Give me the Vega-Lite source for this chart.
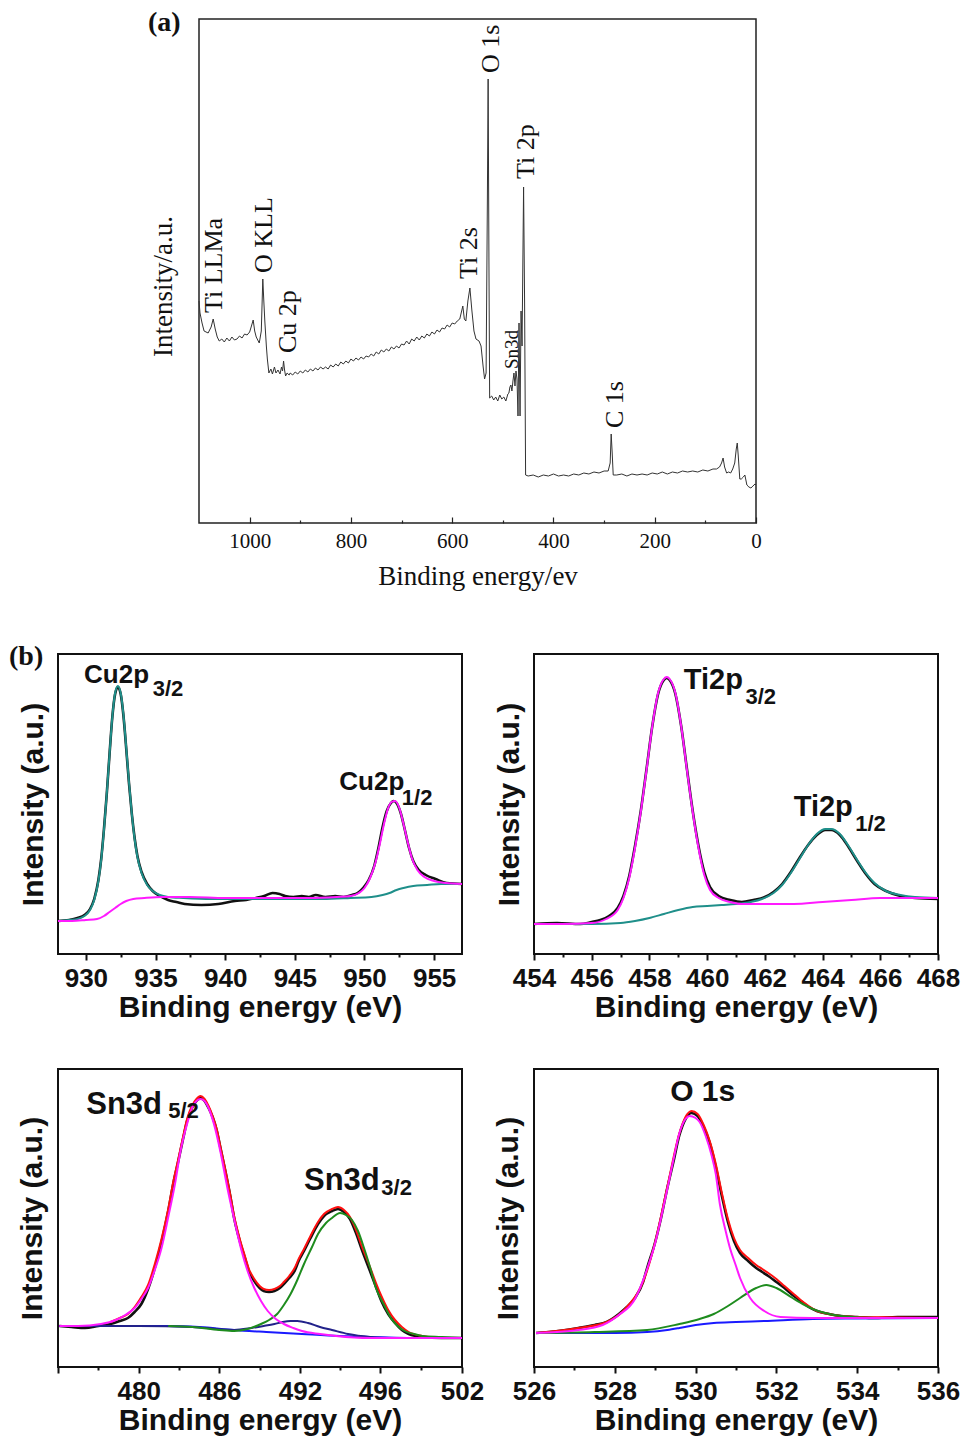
{
  "$schema": "https://vega.github.io/schema/vega-lite/v6.json",
  "background": "white",
  "autosize": {"type": "pad"},
  "padding": {"left": 8, "top": 8, "right": 10, "bottom": 10},
  "config": {"view": {"stroke": null}, "axis": {"grid": false}},
  "datasets": {
    "survey": [
      {"e":1100,"i":222},{"e":1098,"i":210},{"e":1094,"i":200},{"e":1090,"i":192},{"e":1082,"i":190},{"e":1076,"i":196},{"e":1072,"i":204},{"e":1068,"i":194},{"e":1064,"i":186},{"e":1060,"i":182},
      {"e":1055,"i":184},{"e":1050,"i":181},{"e":1045,"i":185},{"e":1040,"i":182},{"e":1035,"i":186},{"e":1030,"i":183},{"e":1025,"i":184},{"e":1020,"i":187},{"e":1015,"i":185},{"e":1010,"i":189},
      {"e":1005,"i":188},{"e":1000,"i":191},{"e":997,"i":196},{"e":993,"i":203},{"e":990,"i":192},{"e":987,"i":186},{"e":981,"i":180},{"e":977,"i":192},{"e":974,"i":244},{"e":972,"i":222},
      {"e":970,"i":202},{"e":967,"i":177},{"e":965,"i":164},{"e":962,"i":150},{"e":958,"i":154},{"e":955,"i":149},{"e":951,"i":156},{"e":948,"i":150},{"e":944,"i":153},{"e":940,"i":149},
      {"e":937,"i":156},{"e":935,"i":152},{"e":933,"i":162},{"e":931,"i":153},{"e":929,"i":147},{"e":926,"i":150},{"e":922,"i":148},{"e":920,"i":150},{"e":915,"i":148},{"e":910,"i":151},
      {"e":905,"i":149},{"e":900,"i":152},{"e":895,"i":150},{"e":890,"i":153},{"e":885,"i":151},{"e":880,"i":154},{"e":875,"i":152},{"e":870,"i":155},{"e":865,"i":153},{"e":860,"i":156},
      {"e":855,"i":154},{"e":850,"i":156},{"e":845,"i":154},{"e":840,"i":158},{"e":835,"i":156},{"e":830,"i":159},{"e":825,"i":157},{"e":820,"i":161},{"e":815,"i":159},{"e":810,"i":162},
      {"e":805,"i":160},{"e":800,"i":164},{"e":795,"i":162},{"e":790,"i":165},{"e":785,"i":163},{"e":780,"i":166},{"e":775,"i":164},{"e":770,"i":167},{"e":765,"i":166},{"e":760,"i":169},
      {"e":755,"i":167},{"e":750,"i":171},{"e":745,"i":169},{"e":740,"i":173},{"e":735,"i":171},{"e":730,"i":174},{"e":725,"i":172},{"e":720,"i":176},{"e":715,"i":174},{"e":710,"i":177},
      {"e":705,"i":175},{"e":700,"i":179},{"e":695,"i":178},{"e":690,"i":182},{"e":685,"i":179},{"e":680,"i":184},{"e":675,"i":182},{"e":670,"i":186},{"e":665,"i":183},{"e":660,"i":187},
      {"e":655,"i":185},{"e":650,"i":189},{"e":645,"i":187},{"e":640,"i":191},{"e":635,"i":189},{"e":630,"i":193},{"e":625,"i":191},{"e":620,"i":195},{"e":615,"i":194},{"e":610,"i":198},
      {"e":605,"i":196},{"e":600,"i":200},{"e":595,"i":199},{"e":590,"i":202},{"e":585,"i":204},{"e":579,"i":217},{"e":576,"i":204},{"e":573,"i":202},{"e":569,"i":222},{"e":565,"i":235},
      {"e":561,"i":212},{"e":557,"i":192},{"e":553,"i":184},{"e":547,"i":182},{"e":543,"i":177},{"e":539,"i":157},{"e":536,"i":144},{"e":533,"i":150},{"e":530.5,"i":322},{"e":529,"i":444},
      {"e":527.5,"i":272},{"e":526,"i":125},{"e":522,"i":127},{"e":518,"i":123},{"e":514,"i":126},{"e":510,"i":122},{"e":506,"i":128},{"e":502,"i":124},{"e":498,"i":126},{"e":494,"i":122},
      {"e":490,"i":129},{"e":488,"i":130},{"e":486,"i":136},{"e":484,"i":138},{"e":482,"i":132},{"e":480,"i":142},{"e":478,"i":150},{"e":476,"i":137},{"e":474,"i":152},{"e":472,"i":144},
      {"e":470,"i":107},{"e":468,"i":200},{"e":466,"i":107},{"e":464,"i":212},{"e":462,"i":177},{"e":459,"i":336},{"e":457,"i":222},{"e":455,"i":48},{"e":450,"i":47},{"e":440,"i":48},
      {"e":430,"i":46},{"e":420,"i":48},{"e":410,"i":47},{"e":400,"i":49},{"e":390,"i":47},{"e":380,"i":48},{"e":370,"i":47},{"e":360,"i":49},{"e":350,"i":48},{"e":340,"i":50},
      {"e":330,"i":49},{"e":320,"i":51},{"e":310,"i":50},{"e":300,"i":52},{"e":292,"i":52},{"e":288,"i":60},{"e":286,"i":89},{"e":284,"i":70},{"e":282,"i":48},{"e":275,"i":48},
      {"e":265,"i":49},{"e":255,"i":47},{"e":245,"i":49},{"e":235,"i":48},{"e":225,"i":49},{"e":215,"i":48},{"e":205,"i":50},{"e":195,"i":49},{"e":185,"i":51},{"e":175,"i":49},
      {"e":165,"i":51},{"e":155,"i":50},{"e":145,"i":52},{"e":135,"i":51},{"e":125,"i":52},{"e":115,"i":51},{"e":105,"i":53},{"e":95,"i":52},{"e":85,"i":54},{"e":78,"i":54},
      {"e":72,"i":56},{"e":68,"i":60},{"e":65,"i":65},{"e":62,"i":56},{"e":58,"i":50},{"e":54,"i":51},{"e":50,"i":50},{"e":46,"i":54},{"e":42,"i":60},{"e":39,"i":74},
      {"e":37,"i":80},{"e":35,"i":67},{"e":32,"i":44},{"e":29,"i":44},{"e":25,"i":46},{"e":22,"i":48},{"e":18,"i":38},{"e":14,"i":36},{"e":10,"i":35},{"e":6,"i":37},
      {"e":2,"i":39},{"e":0,"i":38}
    ],
    "labA": [
      {"t":"Ti LLMa","e":1070,"i":210},{"t":"O KLL","e":972,"i":250},{"t":"Cu 2p","e":924,"i":170},{"t":"Ti 2s","e":567,"i":244},
      {"t":"O 1s","e":523,"i":450},{"t":"Ti 2p","e":454,"i":344},{"t":"C 1s","e":278,"i":95},{"t":"Sn3d","e":481,"i":154}
    ],
    "cu": [
      {"s":"raw","e":928.0,"i":33},{"s":"raw","e":928.8,"i":34},{"s":"raw","e":929.4,"i":36},{"s":"raw","e":929.9,"i":39},{"s":"raw","e":930.3,"i":45},{"s":"raw","e":930.6,"i":55},
      {"s":"raw","e":930.9,"i":74},{"s":"raw","e":931.1,"i":95},{"s":"raw","e":931.3,"i":125},{"s":"raw","e":931.5,"i":160},{"s":"raw","e":931.7,"i":200},{"s":"raw","e":931.9,"i":237},
      {"s":"raw","e":932.1,"i":260},{"s":"raw","e":932.3,"i":267},{"s":"raw","e":932.5,"i":260},{"s":"raw","e":932.7,"i":238},{"s":"raw","e":932.9,"i":205},{"s":"raw","e":933.1,"i":170},
      {"s":"raw","e":933.3,"i":140},{"s":"raw","e":933.5,"i":116},{"s":"raw","e":933.7,"i":98},{"s":"raw","e":934.0,"i":82},{"s":"raw","e":934.4,"i":70},{"s":"raw","e":934.8,"i":63},
      {"s":"raw","e":935.3,"i":58},{"s":"raw","e":935.9,"i":54},{"s":"raw","e":936.5,"i":52},{"s":"raw","e":937.1,"i":50},{"s":"raw","e":938.3,"i":49},{"s":"raw","e":939.5,"i":50},
      {"s":"raw","e":940.7,"i":53},{"s":"raw","e":941.5,"i":54},{"s":"raw","e":942.2,"i":56},{"s":"raw","e":942.8,"i":58},{"s":"raw","e":943.4,"i":61},{"s":"raw","e":943.9,"i":60},
      {"s":"raw","e":944.3,"i":58},{"s":"raw","e":944.9,"i":57},{"s":"raw","e":945.5,"i":58},{"s":"raw","e":946.0,"i":57},{"s":"raw","e":946.5,"i":59},{"s":"raw","e":947.2,"i":57},
      {"s":"raw","e":947.9,"i":58},{"s":"raw","e":948.5,"i":57},{"s":"raw","e":949.1,"i":59},{"s":"raw","e":949.5,"i":61},{"s":"raw","e":949.9,"i":66},{"s":"raw","e":950.3,"i":74},
      {"s":"raw","e":950.7,"i":88},{"s":"raw","e":951.0,"i":106},{"s":"raw","e":951.3,"i":127},{"s":"raw","e":951.6,"i":143},{"s":"raw","e":951.9,"i":151},{"s":"raw","e":952.1,"i":153},
      {"s":"raw","e":952.3,"i":151},{"s":"raw","e":952.6,"i":141},{"s":"raw","e":952.9,"i":124},{"s":"raw","e":953.2,"i":106},{"s":"raw","e":953.5,"i":93},{"s":"raw","e":953.9,"i":84},
      {"s":"raw","e":954.4,"i":79},{"s":"raw","e":955.1,"i":75},{"s":"raw","e":955.9,"i":71},{"s":"raw","e":957.0,"i":70},
      {"s":"p32","e":928.0,"i":33},{"s":"p32","e":928.8,"i":34},{"s":"p32","e":929.4,"i":35},{"s":"p32","e":929.9,"i":38},{"s":"p32","e":930.3,"i":44},{"s":"p32","e":930.6,"i":54},
      {"s":"p32","e":930.9,"i":73},{"s":"p32","e":931.1,"i":94},{"s":"p32","e":931.3,"i":124},{"s":"p32","e":931.5,"i":160},{"s":"p32","e":931.7,"i":200},{"s":"p32","e":931.9,"i":237},
      {"s":"p32","e":932.1,"i":261},{"s":"p32","e":932.3,"i":268},{"s":"p32","e":932.5,"i":261},{"s":"p32","e":932.7,"i":239},{"s":"p32","e":932.9,"i":206},{"s":"p32","e":933.1,"i":171},
      {"s":"p32","e":933.3,"i":140},{"s":"p32","e":933.5,"i":115},{"s":"p32","e":933.7,"i":97},{"s":"p32","e":934.0,"i":81},{"s":"p32","e":934.4,"i":69},{"s":"p32","e":934.8,"i":63},
      {"s":"p32","e":935.3,"i":59},{"s":"p32","e":935.9,"i":57},{"s":"p32","e":937.0,"i":56},{"s":"p32","e":939.0,"i":55},{"s":"p32","e":941.0,"i":55},{"s":"p32","e":943.0,"i":55},
      {"s":"p32","e":945.0,"i":55},{"s":"p32","e":947.0,"i":55},{"s":"p32","e":949.0,"i":56},{"s":"p32","e":950.5,"i":57},{"s":"p32","e":951.3,"i":59},{"s":"p32","e":951.8,"i":61},
      {"s":"p32","e":952.3,"i":64},{"s":"p32","e":952.8,"i":66},{"s":"p32","e":953.5,"i":68},{"s":"p32","e":954.5,"i":69},{"s":"p32","e":955.5,"i":70},{"s":"p32","e":957.0,"i":70},
      {"s":"p12","e":928.0,"i":33},{"s":"p12","e":929.0,"i":33},{"s":"p12","e":930.0,"i":34},{"s":"p12","e":930.8,"i":35},{"s":"p12","e":931.3,"i":38},{"s":"p12","e":931.7,"i":42},
      {"s":"p12","e":932.1,"i":46},{"s":"p12","e":932.5,"i":50},{"s":"p12","e":932.9,"i":53},{"s":"p12","e":933.4,"i":55},{"s":"p12","e":934.2,"i":56},{"s":"p12","e":935.5,"i":57},
      {"s":"p12","e":937.5,"i":57},{"s":"p12","e":940.0,"i":56},{"s":"p12","e":943.0,"i":56},{"s":"p12","e":946.0,"i":56},{"s":"p12","e":948.0,"i":57},{"s":"p12","e":949.0,"i":58},
      {"s":"p12","e":949.6,"i":61},{"s":"p12","e":950.0,"i":66},{"s":"p12","e":950.4,"i":76},{"s":"p12","e":950.8,"i":92},{"s":"p12","e":951.1,"i":110},{"s":"p12","e":951.4,"i":130},
      {"s":"p12","e":951.7,"i":146},{"s":"p12","e":951.95,"i":152},{"s":"p12","e":952.2,"i":153},{"s":"p12","e":952.5,"i":146},{"s":"p12","e":952.8,"i":130},{"s":"p12","e":953.1,"i":112},
      {"s":"p12","e":953.4,"i":96},{"s":"p12","e":953.8,"i":84},{"s":"p12","e":954.3,"i":77},{"s":"p12","e":955.0,"i":73},{"s":"p12","e":955.8,"i":71},{"s":"p12","e":957.0,"i":70}
    ],
    "labCu": [
      {"k":"main","t":"Cu2p","e":929.87,"i":271},{"k":"sub","t":"3/2","e":934.8,"i":258},
      {"k":"main","t":"Cu2p","e":948.19,"i":164},{"k":"sub","t":"1/2","e":952.68,"i":149}
    ],
    "ti": [
      {"s":"raw","e":454.0,"i":30},{"s":"raw","e":454.8,"i":31},{"s":"raw","e":455.6,"i":30},{"s":"raw","e":456.0,"i":32},{"s":"raw","e":456.3,"i":34},{"s":"raw","e":456.6,"i":38},
      {"s":"raw","e":456.9,"i":46},{"s":"raw","e":457.1,"i":58},{"s":"raw","e":457.3,"i":78},{"s":"raw","e":457.5,"i":108},{"s":"raw","e":457.7,"i":143},{"s":"raw","e":457.9,"i":185},
      {"s":"raw","e":458.1,"i":228},{"s":"raw","e":458.3,"i":260},{"s":"raw","e":458.5,"i":274},{"s":"raw","e":458.6,"i":276},{"s":"raw","e":458.7,"i":274},{"s":"raw","e":458.9,"i":260},
      {"s":"raw","e":459.1,"i":228},{"s":"raw","e":459.3,"i":185},{"s":"raw","e":459.5,"i":143},{"s":"raw","e":459.7,"i":108},{"s":"raw","e":459.9,"i":82},{"s":"raw","e":460.1,"i":67},
      {"s":"raw","e":460.4,"i":58},{"s":"raw","e":460.8,"i":54},{"s":"raw","e":461.2,"i":52},{"s":"raw","e":461.6,"i":54},{"s":"raw","e":462.0,"i":57},{"s":"raw","e":462.3,"i":62},
      {"s":"raw","e":462.6,"i":70},{"s":"raw","e":462.9,"i":82},{"s":"raw","e":463.2,"i":96},{"s":"raw","e":463.5,"i":109},{"s":"raw","e":463.8,"i":119},{"s":"raw","e":464.1,"i":124},
      {"s":"raw","e":464.3,"i":124},{"s":"raw","e":464.6,"i":119},{"s":"raw","e":464.9,"i":107},{"s":"raw","e":465.2,"i":93},{"s":"raw","e":465.5,"i":80},{"s":"raw","e":465.8,"i":70},
      {"s":"raw","e":466.2,"i":63},{"s":"raw","e":466.7,"i":58},{"s":"raw","e":467.2,"i":56},{"s":"raw","e":468.0,"i":55},
      {"s":"p32","e":454.0,"i":30},{"s":"p32","e":455.0,"i":30},{"s":"p32","e":456.0,"i":31},{"s":"p32","e":456.5,"i":35},{"s":"p32","e":456.9,"i":44},{"s":"p32","e":457.1,"i":56},
      {"s":"p32","e":457.3,"i":76},{"s":"p32","e":457.5,"i":106},{"s":"p32","e":457.7,"i":142},{"s":"p32","e":457.9,"i":184},{"s":"p32","e":458.1,"i":228},{"s":"p32","e":458.3,"i":261},
      {"s":"p32","e":458.5,"i":275},{"s":"p32","e":458.6,"i":277},{"s":"p32","e":458.7,"i":275},{"s":"p32","e":458.9,"i":261},{"s":"p32","e":459.1,"i":228},{"s":"p32","e":459.3,"i":184},
      {"s":"p32","e":459.5,"i":142},{"s":"p32","e":459.7,"i":106},{"s":"p32","e":459.9,"i":79},{"s":"p32","e":460.1,"i":64},{"s":"p32","e":460.4,"i":56},{"s":"p32","e":460.8,"i":52},
      {"s":"p32","e":461.2,"i":50},{"s":"p32","e":462.0,"i":50},{"s":"p32","e":463.0,"i":50},{"s":"p32","e":464.0,"i":52},{"s":"p32","e":465.0,"i":54},{"s":"p32","e":466.0,"i":56},
      {"s":"p32","e":467.0,"i":56},{"s":"p32","e":468.0,"i":56},
      {"s":"p12","e":454.0,"i":30},{"s":"p12","e":455.0,"i":30},{"s":"p12","e":456.0,"i":30},{"s":"p12","e":457.0,"i":31},{"s":"p12","e":457.5,"i":33},{"s":"p12","e":458.0,"i":36},
      {"s":"p12","e":458.5,"i":40},{"s":"p12","e":459.0,"i":44},{"s":"p12","e":459.5,"i":47},{"s":"p12","e":460.0,"i":48},{"s":"p12","e":460.5,"i":49},{"s":"p12","e":461.0,"i":50},
      {"s":"p12","e":461.5,"i":52},{"s":"p12","e":461.9,"i":55},{"s":"p12","e":462.3,"i":61},{"s":"p12","e":462.6,"i":69},{"s":"p12","e":462.9,"i":81},{"s":"p12","e":463.2,"i":95},
      {"s":"p12","e":463.5,"i":109},{"s":"p12","e":463.8,"i":120},{"s":"p12","e":464.1,"i":125},{"s":"p12","e":464.3,"i":125},{"s":"p12","e":464.6,"i":120},{"s":"p12","e":464.9,"i":108},
      {"s":"p12","e":465.2,"i":94},{"s":"p12","e":465.5,"i":81},{"s":"p12","e":465.8,"i":71},{"s":"p12","e":466.2,"i":63},{"s":"p12","e":466.7,"i":59},{"s":"p12","e":467.2,"i":57},
      {"s":"p12","e":468.0,"i":56}
    ],
    "labTi": [
      {"k":"main","t":"Ti2p","e":459.19,"i":265},{"k":"sub","t":"3/2","e":461.33,"i":250},
      {"k":"main","t":"Ti2p","e":463.0,"i":138},{"k":"sub","t":"1/2","e":465.13,"i":123}
    ],
    "sn": [
      {"s":"raw","e":474.1,"i":41},{"s":"raw","e":475.0,"i":40},{"s":"raw","e":476.0,"i":39},{"s":"raw","e":477.0,"i":41},{"s":"raw","e":477.9,"i":43},{"s":"raw","e":478.6,"i":46},
      {"s":"raw","e":479.2,"i":49},{"s":"raw","e":479.7,"i":55},{"s":"raw","e":480.2,"i":63},{"s":"raw","e":480.7,"i":78},{"s":"raw","e":481.2,"i":99},{"s":"raw","e":481.7,"i":125},
      {"s":"raw","e":482.2,"i":156},{"s":"raw","e":482.6,"i":185},{"s":"raw","e":482.9,"i":203},{"s":"raw","e":483.3,"i":228},{"s":"raw","e":483.6,"i":246},{"s":"raw","e":484.0,"i":260},
      {"s":"raw","e":484.3,"i":266},{"s":"raw","e":484.6,"i":269},{"s":"raw","e":484.9,"i":266},{"s":"raw","e":485.2,"i":259},{"s":"raw","e":485.5,"i":250},{"s":"raw","e":485.8,"i":237},
      {"s":"raw","e":486.1,"i":218},{"s":"raw","e":486.4,"i":199},{"s":"raw","e":486.8,"i":172},{"s":"raw","e":487.1,"i":149},{"s":"raw","e":487.5,"i":127},{"s":"raw","e":487.9,"i":109},
      {"s":"raw","e":488.2,"i":96},{"s":"raw","e":488.6,"i":86},{"s":"raw","e":489.0,"i":79},{"s":"raw","e":489.3,"i":76},{"s":"raw","e":489.7,"i":75},{"s":"raw","e":490.1,"i":76},
      {"s":"raw","e":490.5,"i":79},{"s":"raw","e":490.8,"i":83},{"s":"raw","e":491.2,"i":89},{"s":"raw","e":491.6,"i":96},{"s":"raw","e":491.9,"i":106},{"s":"raw","e":492.2,"i":116},
      {"s":"raw","e":492.5,"i":128},{"s":"raw","e":492.9,"i":143},{"s":"raw","e":493.2,"i":151},{"s":"raw","e":493.6,"i":156},{"s":"raw","e":493.9,"i":158},{"s":"raw","e":494.2,"i":155},
      {"s":"raw","e":494.5,"i":148},{"s":"raw","e":494.8,"i":134},{"s":"raw","e":495.1,"i":117},{"s":"raw","e":495.5,"i":96},{"s":"raw","e":495.8,"i":80},{"s":"raw","e":496.1,"i":66},
      {"s":"raw","e":496.6,"i":53},{"s":"raw","e":497.1,"i":44},{"s":"raw","e":497.6,"i":37},{"s":"raw","e":498.1,"i":33},{"s":"raw","e":499.1,"i":30},{"s":"raw","e":500.5,"i":29},
      {"s":"raw","e":502.0,"i":29},
      {"s":"sum","e":477.9,"i":45},{"s":"sum","e":478.6,"i":49},{"s":"sum","e":479.2,"i":53},{"s":"sum","e":479.7,"i":60},{"s":"sum","e":480.2,"i":70},{"s":"sum","e":480.7,"i":82},
      {"s":"sum","e":481.2,"i":103},{"s":"sum","e":481.7,"i":128},{"s":"sum","e":482.2,"i":158},{"s":"sum","e":482.6,"i":187},{"s":"sum","e":482.9,"i":205},{"s":"sum","e":483.3,"i":230},
      {"s":"sum","e":483.6,"i":248},{"s":"sum","e":484.0,"i":262},{"s":"sum","e":484.3,"i":268},{"s":"sum","e":484.6,"i":271},{"s":"sum","e":484.9,"i":268},{"s":"sum","e":485.2,"i":261},
      {"s":"sum","e":485.5,"i":251},{"s":"sum","e":485.8,"i":238},{"s":"sum","e":486.1,"i":219},{"s":"sum","e":486.4,"i":200},{"s":"sum","e":486.8,"i":173},{"s":"sum","e":487.1,"i":151},
      {"s":"sum","e":487.5,"i":129},{"s":"sum","e":487.9,"i":111},{"s":"sum","e":488.2,"i":98},{"s":"sum","e":488.6,"i":88},{"s":"sum","e":489.0,"i":81},{"s":"sum","e":489.3,"i":78},
      {"s":"sum","e":489.7,"i":77},{"s":"sum","e":490.1,"i":78},{"s":"sum","e":490.5,"i":81},{"s":"sum","e":490.8,"i":85},{"s":"sum","e":491.2,"i":91},{"s":"sum","e":491.6,"i":99},
      {"s":"sum","e":491.9,"i":108},{"s":"sum","e":492.2,"i":118},{"s":"sum","e":492.5,"i":130},{"s":"sum","e":492.9,"i":145},{"s":"sum","e":493.2,"i":153},{"s":"sum","e":493.6,"i":158},
      {"s":"sum","e":493.9,"i":160},{"s":"sum","e":494.2,"i":157},{"s":"sum","e":494.5,"i":150},{"s":"sum","e":494.8,"i":137},{"s":"sum","e":495.1,"i":120},{"s":"sum","e":495.5,"i":100},
      {"s":"sum","e":495.8,"i":84},{"s":"sum","e":496.1,"i":71},{"s":"sum","e":496.6,"i":57},{"s":"sum","e":497.1,"i":47},{"s":"sum","e":497.6,"i":40},{"s":"sum","e":498.1,"i":35},
      {"s":"sum","e":499.1,"i":31},{"s":"sum","e":500.5,"i":29},{"s":"sum","e":502.0,"i":29},
      {"s":"p52","e":474.1,"i":41},{"s":"p52","e":475.5,"i":41},{"s":"p52","e":477.2,"i":43},{"s":"p52","e":478.3,"i":47},{"s":"p52","e":479.0,"i":52},{"s":"p52","e":479.7,"i":59},
      {"s":"p52","e":480.2,"i":68},{"s":"p52","e":480.7,"i":79},{"s":"p52","e":481.2,"i":97},{"s":"p52","e":481.7,"i":119},{"s":"p52","e":482.2,"i":150},{"s":"p52","e":482.7,"i":183},
      {"s":"p52","e":483.1,"i":215},{"s":"p52","e":483.6,"i":243},{"s":"p52","e":484.0,"i":260},{"s":"p52","e":484.3,"i":266},{"s":"p52","e":484.6,"i":268},{"s":"p52","e":484.9,"i":266},
      {"s":"p52","e":485.2,"i":259},{"s":"p52","e":485.6,"i":243},{"s":"p52","e":486.1,"i":214},{"s":"p52","e":486.6,"i":179},{"s":"p52","e":487.1,"i":148},{"s":"p52","e":487.6,"i":119},
      {"s":"p52","e":488.1,"i":96},{"s":"p52","e":488.6,"i":79},{"s":"p52","e":489.1,"i":66},{"s":"p52","e":489.6,"i":56},{"s":"p52","e":490.2,"i":48},{"s":"p52","e":490.8,"i":43},
      {"s":"p52","e":491.5,"i":39},{"s":"p52","e":492.1,"i":36},{"s":"p52","e":493.0,"i":33},{"s":"p52","e":493.8,"i":31},{"s":"p52","e":495.5,"i":29},{"s":"p52","e":498.0,"i":29},
      {"s":"p52","e":502.0,"i":29},
      {"s":"p32","e":482.2,"i":41},{"s":"p32","e":484.0,"i":40},{"s":"p32","e":486.0,"i":37},{"s":"p32","e":487.1,"i":36},{"s":"p32","e":488.1,"i":38},{"s":"p32","e":489.1,"i":43},
      {"s":"p32","e":489.7,"i":47},{"s":"p32","e":490.3,"i":53},{"s":"p32","e":490.8,"i":62},{"s":"p32","e":491.3,"i":73},{"s":"p32","e":491.8,"i":87},{"s":"p32","e":492.2,"i":103},
      {"s":"p32","e":492.6,"i":120},{"s":"p32","e":492.9,"i":133},{"s":"p32","e":493.3,"i":144},{"s":"p32","e":493.6,"i":149},{"s":"p32","e":494.0,"i":154},{"s":"p32","e":494.3,"i":152},
      {"s":"p32","e":494.6,"i":147},{"s":"p32","e":494.9,"i":136},{"s":"p32","e":495.2,"i":119},{"s":"p32","e":495.5,"i":100},{"s":"p32","e":495.8,"i":79},{"s":"p32","e":496.3,"i":62},
      {"s":"p32","e":496.8,"i":49},{"s":"p32","e":497.3,"i":41},{"s":"p32","e":497.8,"i":36},{"s":"p32","e":498.5,"i":33},{"s":"p32","e":499.1,"i":31},{"s":"p32","e":500.5,"i":30},
      {"s":"p32","e":502.0,"i":29},
      {"s":"bg","e":474.1,"i":41},{"s":"bg","e":478.0,"i":41},{"s":"bg","e":482.2,"i":41},{"s":"bg","e":484.5,"i":40},{"s":"bg","e":487.1,"i":37},{"s":"bg","e":489.5,"i":35},
      {"s":"bg","e":492.1,"i":33},{"s":"bg","e":494.0,"i":31},{"s":"bg","e":495.5,"i":30},{"s":"bg","e":498.0,"i":29},{"s":"bg","e":502.0,"i":29},
      {"s":"sat","e":474.1,"i":41},{"s":"sat","e":480.0,"i":41},{"s":"sat","e":484.0,"i":40},{"s":"sat","e":485.8,"i":38},{"s":"sat","e":487.1,"i":37},{"s":"sat","e":488.4,"i":39},
      {"s":"sat","e":489.3,"i":41},{"s":"sat","e":490.1,"i":43},{"s":"sat","e":490.7,"i":45},{"s":"sat","e":491.3,"i":46},{"s":"sat","e":491.8,"i":46},{"s":"sat","e":492.4,"i":44},
      {"s":"sat","e":493.0,"i":40},{"s":"sat","e":493.6,"i":37},{"s":"sat","e":494.4,"i":33},{"s":"sat","e":495.5,"i":30},{"s":"sat","e":496.7,"i":29},{"s":"sat","e":502.0,"i":29}
    ],
    "labSn": [
      {"k":"main","t":"Sn3d","e":476.1,"i":253},{"k":"sub","t":"5/2","e":482.2,"i":249},
      {"k":"main","t":"Sn3d","e":492.2,"i":177},{"k":"sub","t":"3/2","e":496.1,"i":172}
    ],
    "o": [
      {"s":"raw","e":526.05,"i":34},{"s":"raw","e":526.6,"i":36},{"s":"raw","e":527.1,"i":39},{"s":"raw","e":527.5,"i":42},{"s":"raw","e":527.8,"i":45},{"s":"raw","e":528.1,"i":53},
      {"s":"raw","e":528.3,"i":60},{"s":"raw","e":528.5,"i":69},{"s":"raw","e":528.7,"i":85},{"s":"raw","e":528.8,"i":99},{"s":"raw","e":529.0,"i":125},{"s":"raw","e":529.15,"i":150},
      {"s":"raw","e":529.3,"i":179},{"s":"raw","e":529.45,"i":205},{"s":"raw","e":529.6,"i":232},{"s":"raw","e":529.75,"i":248},{"s":"raw","e":529.9,"i":254},{"s":"raw","e":530.05,"i":251},
      {"s":"raw","e":530.2,"i":240},{"s":"raw","e":530.35,"i":224},{"s":"raw","e":530.5,"i":200},{"s":"raw","e":530.65,"i":171},{"s":"raw","e":530.8,"i":145},{"s":"raw","e":530.95,"i":126},
      {"s":"raw","e":531.1,"i":114},{"s":"raw","e":531.3,"i":106},{"s":"raw","e":531.5,"i":99},{"s":"raw","e":531.65,"i":95},{"s":"raw","e":531.8,"i":91},{"s":"raw","e":532.0,"i":85},
      {"s":"raw","e":532.2,"i":79},{"s":"raw","e":532.4,"i":72},{"s":"raw","e":532.6,"i":66},{"s":"raw","e":532.8,"i":60},{"s":"raw","e":533.0,"i":56},{"s":"raw","e":533.3,"i":53},
      {"s":"raw","e":533.6,"i":51},{"s":"raw","e":534.0,"i":50},{"s":"raw","e":534.4,"i":49},{"s":"raw","e":535.0,"i":50},{"s":"raw","e":535.5,"i":50},{"s":"raw","e":536.0,"i":50},
      {"s":"sum","e":526.05,"i":34},{"s":"sum","e":527.1,"i":39},{"s":"sum","e":527.8,"i":45},{"s":"sum","e":528.3,"i":60},{"s":"sum","e":528.7,"i":85},{"s":"sum","e":529.0,"i":125},
      {"s":"sum","e":529.3,"i":180},{"s":"sum","e":529.6,"i":234},{"s":"sum","e":529.75,"i":250},{"s":"sum","e":529.9,"i":256},{"s":"sum","e":530.05,"i":253},{"s":"sum","e":530.2,"i":242},
      {"s":"sum","e":530.35,"i":226},{"s":"sum","e":530.5,"i":203},{"s":"sum","e":530.65,"i":174},{"s":"sum","e":530.8,"i":148},{"s":"sum","e":530.95,"i":129},{"s":"sum","e":531.1,"i":117},
      {"s":"sum","e":531.3,"i":109},{"s":"sum","e":531.5,"i":102},{"s":"sum","e":531.65,"i":98},{"s":"sum","e":531.8,"i":94},{"s":"sum","e":532.0,"i":88},{"s":"sum","e":532.2,"i":81},
      {"s":"sum","e":532.4,"i":74},{"s":"sum","e":532.6,"i":67},{"s":"sum","e":532.8,"i":61},{"s":"sum","e":533.0,"i":56},{"s":"sum","e":533.3,"i":53},{"s":"sum","e":533.6,"i":51},
      {"s":"sum","e":534.0,"i":50},{"s":"sum","e":535.0,"i":49.5},{"s":"sum","e":536.0,"i":49},
      {"s":"p1","e":526.05,"i":34},{"s":"p1","e":527.1,"i":37},{"s":"p1","e":527.7,"i":42},{"s":"p1","e":528.1,"i":52},{"s":"p1","e":528.5,"i":68},{"s":"p1","e":528.8,"i":98},
      {"s":"p1","e":529.0,"i":124},{"s":"p1","e":529.15,"i":150},{"s":"p1","e":529.3,"i":178},{"s":"p1","e":529.45,"i":207},{"s":"p1","e":529.6,"i":234},{"s":"p1","e":529.75,"i":248},
      {"s":"p1","e":529.85,"i":251},{"s":"p1","e":530.0,"i":249},{"s":"p1","e":530.1,"i":245},{"s":"p1","e":530.25,"i":231},{"s":"p1","e":530.4,"i":211},{"s":"p1","e":530.5,"i":193},
      {"s":"p1","e":530.6,"i":163},{"s":"p1","e":530.75,"i":135},{"s":"p1","e":530.85,"i":119},{"s":"p1","e":531.0,"i":101},{"s":"p1","e":531.1,"i":89},{"s":"p1","e":531.35,"i":69},
      {"s":"p1","e":531.7,"i":56},{"s":"p1","e":532.1,"i":50},{"s":"p1","e":532.9,"i":49},{"s":"p1","e":536.0,"i":49},
      {"s":"p2","e":526.05,"i":34},{"s":"p2","e":527.5,"i":35},{"s":"p2","e":528.8,"i":37},{"s":"p2","e":529.6,"i":43},{"s":"p2","e":530.1,"i":48},{"s":"p2","e":530.45,"i":53},
      {"s":"p2","e":530.8,"i":61},{"s":"p2","e":531.1,"i":69},{"s":"p2","e":531.5,"i":79},{"s":"p2","e":531.75,"i":82},{"s":"p2","e":532.0,"i":79},{"s":"p2","e":532.4,"i":69},
      {"s":"p2","e":532.7,"i":62},{"s":"p2","e":532.9,"i":58},{"s":"p2","e":533.2,"i":54},{"s":"p2","e":533.6,"i":51},{"s":"p2","e":534.5,"i":49},{"s":"p2","e":536.0,"i":49},
      {"s":"bg","e":526.05,"i":34},{"s":"bg","e":528.0,"i":34},{"s":"bg","e":528.8,"i":35},{"s":"bg","e":529.3,"i":37},{"s":"bg","e":529.6,"i":39},{"s":"bg","e":530.0,"i":42},
      {"s":"bg","e":530.45,"i":44},{"s":"bg","e":531.0,"i":45},{"s":"bg","e":531.7,"i":46},{"s":"bg","e":532.9,"i":48},{"s":"bg","e":534.0,"i":48.5},{"s":"bg","e":536.0,"i":49}
    ],
    "labO": [
      {"k":"main","t":"O 1s","e":529.37,"i":266}
    ]
  },
  "bounds": "full",
  "spacing": 52,
  "vconcat": [
    {
      "bounds": "flush",
      "spacing": 140,
      "hconcat": [
        {"width": 1, "height": 1, "view": {"stroke": null, "fill": "white"}, "data": {"values": []}, "mark": "point", "encoding": {}},
        {
          "width": 557,
          "height": 504,
          "view": {"stroke": "#222", "strokeWidth": 1.5},
          "title": {"text": "(a)", "anchor": "start", "frame": "group", "orient": "top", "offset": 0, "dx": -51, "dy": 40, "baseline": "alphabetic", "font": "Liberation Serif", "fontSize": 28, "fontWeight": "bold", "color": "#111"},
          "encoding": {
            "x": {"field": "e", "type": "quantitative",
              "scale": {"domain": [0, 1100], "reverse": true, "nice": false, "zero": false},
              "axis": {"title": "Binding energy/ev", "titleFont": "Liberation Serif", "titleFontSize": 27, "titleFontWeight": "normal", "titleColor": "#111", "titlePadding": 9,
                "labelFont": "Liberation Serif", "labelFontSize": 21, "labelColor": "#111", "labelPadding": 13, "labelFlush": false, "labelOverlap": false,
                "domain": false, "grid": false, "format": "d",
                "values": [0, 100, 200, 300, 400, 500, 600, 700, 800, 900, 1000],
                "labelExpr": "datum.value % 200 == 0 ? datum.label : ''",
                "tickSize": {"condition": {"test": "datum.value % 200 == 0", "value": -6}, "value": -3},
                "tickColor": "#222", "tickWidth": 1.2}},
            "y": {"field": "i", "type": "quantitative",
              "scale": {"domain": [0, 504], "nice": false, "zero": false},
              "axis": {"title": "Intensity/a.u.", "titleFont": "Liberation Serif", "titleFontSize": 27, "titleFontWeight": "normal", "titleColor": "#111", "titlePadding": 22, "titleY": 267,
                "labels": false, "ticks": false, "domain": false, "grid": false}}
          },
          "layer": [
            {"data": {"name": "survey"}, "mark": {"type": "line", "color": "#333", "strokeWidth": 1, "interpolate": "linear"}, "encoding": {}},
            {"data": {"name": "labA"}, "transform": [{"filter": "datum.t != 'Sn3d'"}],
              "mark": {"type": "text", "angle": -90, "align": "left", "baseline": "middle", "font": "Liberation Serif", "fontSize": 26, "color": "#111"},
              "encoding": {"text": {"field": "t"}}},
            {"data": {"name": "labA"}, "transform": [{"filter": "datum.t == 'Sn3d'"}],
              "mark": {"type": "text", "angle": -90, "align": "left", "baseline": "middle", "font": "Liberation Serif", "fontSize": 19, "color": "#111"},
              "encoding": {"text": {"field": "t"}}}
          ]
        }
      ]
    },
    {
      "bounds": "flush",
      "columns": 2,
      "spacing": {"row": 115, "column": 72},
      "concat": [
        {
          "width": 404,
          "height": 300,
          "view": {"stroke": "#111", "strokeWidth": 2},
          "title": {"text": "(b)", "anchor": "start", "frame": "group", "orient": "top", "offset": 0, "dx": -49, "dy": 39, "baseline": "alphabetic", "font": "Liberation Serif", "fontSize": 28, "fontWeight": "bold", "color": "#111"},
          "encoding": {
            "x": {"field": "e", "type": "quantitative",
              "scale": {"domain": [928, 957], "nice": false, "zero": false},
              "axis": {"title": "Binding energy (eV)", "titleFont": "Liberation Sans", "titleFontSize": 30, "titleFontWeight": "bold", "titleColor": "#111", "titlePadding": 1,
                "labelFont": "Liberation Sans", "labelFontSize": 26, "labelFontWeight": "bold", "labelColor": "#111", "labelPadding": 5, "labelFlush": false, "labelOverlap": false,
                "domain": false, "grid": false, "format": "d",
                "values": [930, 932.5, 935, 937.5, 940, 942.5, 945, 947.5, 950, 952.5, 955],
                "labelExpr": "datum.value % 5 == 0 ? datum.label : ''",
                "tickSize": {"condition": {"test": "datum.value % 5 == 0", "value": 6}, "value": 3},
                "tickColor": "#111", "tickWidth": 2}},
            "y": {"field": "i", "type": "quantitative",
              "scale": {"domain": [0, 300], "nice": false, "zero": false},
              "axis": {"title": "Intensity (a.u.)", "titleFont": "Liberation Sans", "titleFontSize": 30, "titleFontWeight": "bold", "titleColor": "#111", "titlePadding": 10,
                "labels": false, "ticks": false, "domain": false, "grid": false}}
          },
          "layer": [
            {"data": {"name": "cu"}, "transform": [{"filter": "datum.s == 'raw'"}], "mark": {"type": "line", "color": "#111", "strokeWidth": 2.6, "interpolate": "monotone"}, "encoding": {}},
            {"data": {"name": "cu"}, "transform": [{"filter": "datum.s == 'p32'"}], "mark": {"type": "line", "color": "#1f8f8a", "strokeWidth": 2, "interpolate": "monotone"}, "encoding": {}},
            {"data": {"name": "cu"}, "transform": [{"filter": "datum.s == 'p12'"}], "mark": {"type": "line", "color": "#ff1aff", "strokeWidth": 2, "interpolate": "monotone"}, "encoding": {}},
            {"data": {"name": "labCu"}, "transform": [{"filter": "datum.k == 'main'"}],
              "mark": {"type": "text", "align": "left", "baseline": "alphabetic", "font": "Liberation Sans", "fontWeight": "bold", "fontSize": 26, "color": "#111"},
              "encoding": {"text": {"field": "t"}}},
            {"data": {"name": "labCu"}, "transform": [{"filter": "datum.k == 'sub'"}],
              "mark": {"type": "text", "align": "left", "baseline": "alphabetic", "font": "Liberation Sans", "fontWeight": "bold", "fontSize": 22, "color": "#111"},
              "encoding": {"text": {"field": "t"}}}
          ]
        },
        {
          "width": 404,
          "height": 300,
          "view": {"stroke": "#111", "strokeWidth": 2},
          "encoding": {
            "x": {"field": "e", "type": "quantitative",
              "scale": {"domain": [454, 468], "nice": false, "zero": false},
              "axis": {"title": "Binding energy (eV)", "titleFont": "Liberation Sans", "titleFontSize": 30, "titleFontWeight": "bold", "titleColor": "#111", "titlePadding": 1,
                "labelFont": "Liberation Sans", "labelFontSize": 26, "labelFontWeight": "bold", "labelColor": "#111", "labelPadding": 5, "labelFlush": false, "labelOverlap": false,
                "domain": false, "grid": false, "format": "d",
                "values": [454, 455, 456, 457, 458, 459, 460, 461, 462, 463, 464, 465, 466, 467, 468],
                "labelExpr": "datum.value % 2 == 0 ? datum.label : ''",
                "tickSize": {"condition": {"test": "datum.value % 2 == 0", "value": 6}, "value": 3},
                "tickColor": "#111", "tickWidth": 2}},
            "y": {"field": "i", "type": "quantitative",
              "scale": {"domain": [0, 300], "nice": false, "zero": false},
              "axis": {"title": "Intensity (a.u.)", "titleFont": "Liberation Sans", "titleFontSize": 30, "titleFontWeight": "bold", "titleColor": "#111", "titlePadding": 10,
                "labels": false, "ticks": false, "domain": false, "grid": false}}
          },
          "layer": [
            {"data": {"name": "ti"}, "transform": [{"filter": "datum.s == 'raw'"}], "mark": {"type": "line", "color": "#111", "strokeWidth": 2.6, "interpolate": "monotone"}, "encoding": {}},
            {"data": {"name": "ti"}, "transform": [{"filter": "datum.s == 'p12'"}], "mark": {"type": "line", "color": "#1f8f8a", "strokeWidth": 2, "interpolate": "monotone"}, "encoding": {}},
            {"data": {"name": "ti"}, "transform": [{"filter": "datum.s == 'p32'"}], "mark": {"type": "line", "color": "#ff1aff", "strokeWidth": 2, "interpolate": "monotone"}, "encoding": {}},
            {"data": {"name": "labTi"}, "transform": [{"filter": "datum.k == 'main'"}],
              "mark": {"type": "text", "align": "left", "baseline": "alphabetic", "font": "Liberation Sans", "fontWeight": "bold", "fontSize": 29, "color": "#111"},
              "encoding": {"text": {"field": "t"}}},
            {"data": {"name": "labTi"}, "transform": [{"filter": "datum.k == 'sub'"}],
              "mark": {"type": "text", "align": "left", "baseline": "alphabetic", "font": "Liberation Sans", "fontWeight": "bold", "fontSize": 22, "color": "#111"},
              "encoding": {"text": {"field": "t"}}}
          ]
        },
        {
          "width": 404,
          "height": 298,
          "view": {"stroke": "#111", "strokeWidth": 2},
          "encoding": {
            "x": {"field": "e", "type": "quantitative",
              "scale": {"domain": [474, 492, 496, 502], "range": [0, 242, 322, 404], "nice": false, "zero": false},
              "axis": {"title": "Binding energy (eV)", "titleFont": "Liberation Sans", "titleFontSize": 30, "titleFontWeight": "bold", "titleColor": "#111", "titlePadding": 1,
                "labelFont": "Liberation Sans", "labelFontSize": 26, "labelFontWeight": "bold", "labelColor": "#111", "labelPadding": 5, "labelFlush": false, "labelOverlap": false,
                "domain": false, "grid": false, "format": "d",
                "values": [474, 477, 480, 483, 486, 489, 492, 494, 496, 499, 502],
                "labelExpr": "indexof([480, 486, 492, 496, 502], datum.value) >= 0 ? datum.label : ''",
                "tickSize": {"condition": {"test": "indexof([474, 480, 486, 492, 496, 502], datum.value) >= 0", "value": 6}, "value": 3},
                "tickColor": "#111", "tickWidth": 2}},
            "y": {"field": "i", "type": "quantitative",
              "scale": {"domain": [0, 298], "nice": false, "zero": false},
              "axis": {"title": "Intensity (a.u.)", "titleFont": "Liberation Sans", "titleFontSize": 30, "titleFontWeight": "bold", "titleColor": "#111", "titlePadding": 11,
                "labels": false, "ticks": false, "domain": false, "grid": false}}
          },
          "layer": [
            {"data": {"name": "sn"}, "transform": [{"filter": "datum.s == 'raw'"}], "mark": {"type": "line", "color": "#111", "strokeWidth": 2.6, "interpolate": "monotone"}, "encoding": {}},
            {"data": {"name": "sn"}, "transform": [{"filter": "datum.s == 'sum'"}], "mark": {"type": "line", "color": "#ff1010", "strokeWidth": 2, "interpolate": "monotone"}, "encoding": {}},
            {"data": {"name": "sn"}, "transform": [{"filter": "datum.s == 'bg'"}], "mark": {"type": "line", "color": "#1a1aff", "strokeWidth": 2, "interpolate": "monotone"}, "encoding": {}},
            {"data": {"name": "sn"}, "transform": [{"filter": "datum.s == 'sat'"}], "mark": {"type": "line", "color": "#22228a", "strokeWidth": 2, "interpolate": "monotone"}, "encoding": {}},
            {"data": {"name": "sn"}, "transform": [{"filter": "datum.s == 'p32'"}], "mark": {"type": "line", "color": "#1e8c1e", "strokeWidth": 2, "interpolate": "monotone"}, "encoding": {}},
            {"data": {"name": "sn"}, "transform": [{"filter": "datum.s == 'p52'"}], "mark": {"type": "line", "color": "#ff1aff", "strokeWidth": 2, "interpolate": "monotone"}, "encoding": {}},
            {"data": {"name": "labSn"}, "transform": [{"filter": "datum.k == 'main'"}],
              "mark": {"type": "text", "align": "left", "baseline": "alphabetic", "font": "Liberation Sans", "fontWeight": "bold", "fontSize": 31, "color": "#111"},
              "encoding": {"text": {"field": "t"}}},
            {"data": {"name": "labSn"}, "transform": [{"filter": "datum.k == 'sub'"}],
              "mark": {"type": "text", "align": "left", "baseline": "alphabetic", "font": "Liberation Sans", "fontWeight": "bold", "fontSize": 22, "color": "#111"},
              "encoding": {"text": {"field": "t"}}}
          ]
        },
        {
          "width": 404,
          "height": 298,
          "view": {"stroke": "#111", "strokeWidth": 2},
          "encoding": {
            "x": {"field": "e", "type": "quantitative",
              "scale": {"domain": [526, 536], "nice": false, "zero": false},
              "axis": {"title": "Binding energy (eV)", "titleFont": "Liberation Sans", "titleFontSize": 30, "titleFontWeight": "bold", "titleColor": "#111", "titlePadding": 1,
                "labelFont": "Liberation Sans", "labelFontSize": 26, "labelFontWeight": "bold", "labelColor": "#111", "labelPadding": 5, "labelFlush": false, "labelOverlap": false,
                "domain": false, "grid": false, "format": "d",
                "values": [526, 527, 528, 529, 530, 531, 532, 533, 534, 535, 536],
                "labelExpr": "datum.value % 2 == 0 ? datum.label : ''",
                "tickSize": {"condition": {"test": "datum.value % 2 == 0", "value": 6}, "value": 3},
                "tickColor": "#111", "tickWidth": 2}},
            "y": {"field": "i", "type": "quantitative",
              "scale": {"domain": [0, 298], "nice": false, "zero": false},
              "axis": {"title": "Intensity (a.u.)", "titleFont": "Liberation Sans", "titleFontSize": 30, "titleFontWeight": "bold", "titleColor": "#111", "titlePadding": 11,
                "labels": false, "ticks": false, "domain": false, "grid": false}}
          },
          "layer": [
            {"data": {"name": "o"}, "transform": [{"filter": "datum.s == 'raw'"}], "mark": {"type": "line", "color": "#111", "strokeWidth": 2.6, "interpolate": "monotone"}, "encoding": {}},
            {"data": {"name": "o"}, "transform": [{"filter": "datum.s == 'sum'"}], "mark": {"type": "line", "color": "#ff1010", "strokeWidth": 2, "interpolate": "monotone"}, "encoding": {}},
            {"data": {"name": "o"}, "transform": [{"filter": "datum.s == 'bg'"}], "mark": {"type": "line", "color": "#1a1aff", "strokeWidth": 2, "interpolate": "monotone"}, "encoding": {}},
            {"data": {"name": "o"}, "transform": [{"filter": "datum.s == 'p2'"}], "mark": {"type": "line", "color": "#1e8c1e", "strokeWidth": 2, "interpolate": "monotone"}, "encoding": {}},
            {"data": {"name": "o"}, "transform": [{"filter": "datum.s == 'p1'"}], "mark": {"type": "line", "color": "#ff1aff", "strokeWidth": 2, "interpolate": "monotone"}, "encoding": {}},
            {"data": {"name": "labO"},
              "mark": {"type": "text", "align": "left", "baseline": "alphabetic", "font": "Liberation Sans", "fontWeight": "bold", "fontSize": 30, "color": "#111"},
              "encoding": {"text": {"field": "t"}}}
          ]
        }
      ]
    }
  ]
}
